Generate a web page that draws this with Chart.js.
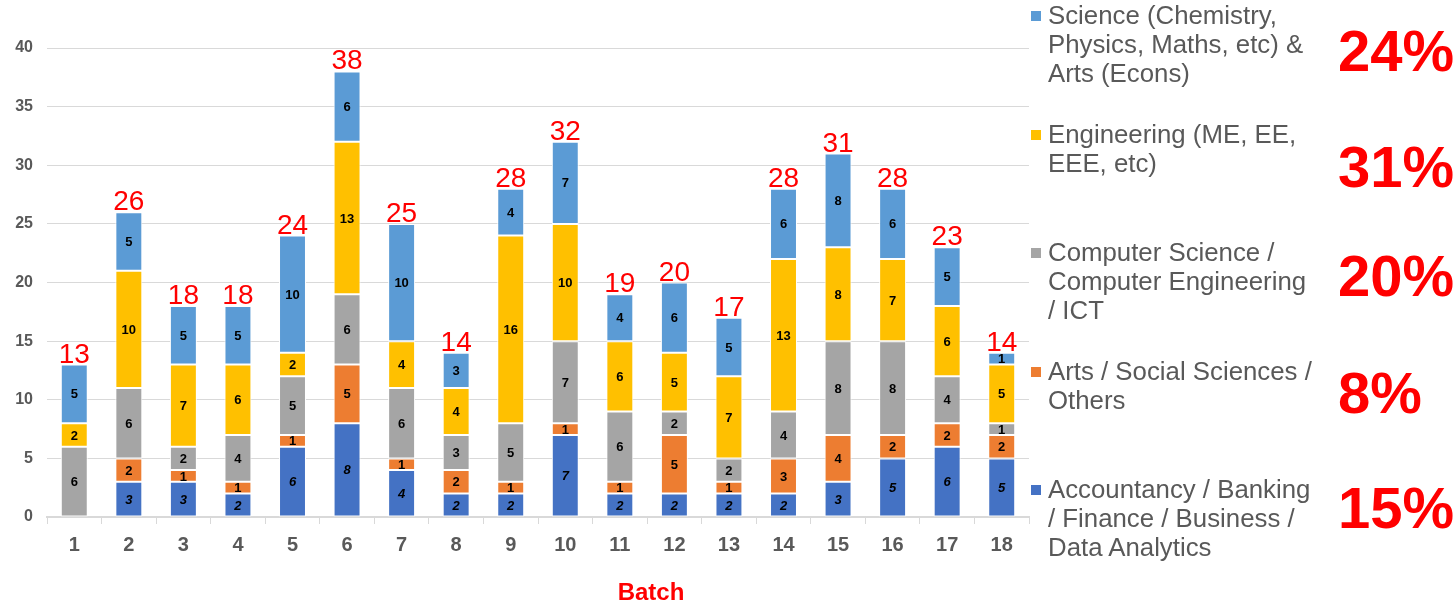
<!DOCTYPE html>
<html>
<head>
<meta charset="utf-8">
<script src="https://cdn.jsdelivr.net/npm/chart.js@4.4.0/dist/chart.umd.min.js"></script>
<style>
  body { margin: 0; background: #fff; }
  #wrap { position: relative; width: 1455px; height: 608px; overflow: hidden; }
  #wrap canvas { position: absolute; left: 0; top: 0; }
  .legend-item {
    position: absolute;
    left: 1031px;
    padding-left: 17px;
    font: 25.8px "Liberation Sans", Arial, sans-serif;
    line-height: 29.4px;
    color: #595959;
    white-space: pre-line;
  }
  .legend-item span {
    position: absolute;
    left: 0;
    top: 10.5px;
    width: 10px;
    height: 10px;
  }
  .share {
    position: absolute;
    left: 1338px;
    font: bold 58px "Liberation Sans", Arial, sans-serif;
    line-height: 58px;
    color: #ff0000;
  }
</style>
</head>
<body>
<div id="wrap">
  <canvas id="batchChart" width="1455" height="608"></canvas>
</div>
<script>
document.addEventListener("DOMContentLoaded", function(){

    const batches = ["1", "2", "3", "4", "5", "6", "7", "8", "9", "10", "11", "12", "13", "14", "15", "16", "17", "18"];

    // stacked bottom -> top
    const accountancy = [0, 3, 3, 2, 6, 8, 4, 2, 2, 7, 2, 2, 2, 2, 3, 5, 6, 5];
    const arts        = [0, 2, 1, 1, 1, 5, 1, 2, 1, 1, 1, 5, 1, 3, 4, 2, 2, 2];
    const computing   = [6, 6, 2, 4, 5, 6, 6, 3, 5, 7, 6, 2, 2, 4, 8, 8, 4, 1];
    const engineering = [2, 10, 7, 6, 2, 13, 4, 4, 16, 10, 6, 5, 7, 13, 8, 7, 6, 5];
    const science     = [5, 5, 5, 5, 10, 6, 10, 3, 4, 7, 4, 6, 5, 6, 8, 6, 5, 1];

    const seriesNames = [
      "Accountancy / Banking\n/ Finance / Business /\nData Analytics",
      "Arts / Social Sciences /\nOthers",
      "Computer Science /\nComputer Engineering\n/ ICT",
      "Engineering (ME, EE,\nEEE, etc)",
      "Science (Chemistry,\nPhysics, Maths, etc) &\nArts (Econs)",
    ];
    const shares = ["15%", "8%", "20%", "31%", "24%"];
    const colors = ["#4472c4", "#ed7d31", "#a5a5a5", "#ffc000", "#5b9bd5"];
    const seriesData = [accountancy, arts, computing, engineering, science];

    const fontFamily = '"Liberation Sans", Arial, sans-serif';
    Chart.defaults.font.family = fontFamily;

    // value labels, totals and axis title
    const barLabels = {
      id: "barLabels",
      afterDatasetsDraw(chart) {
        const ctx = chart.ctx;
        ctx.save();
        ctx.textAlign = "center";
        ctx.textBaseline = "middle";
        ctx.fillStyle = "#000";
        chart.data.datasets.forEach((ds, i) => {
          const meta = chart.getDatasetMeta(i);
          ctx.font = (i === 0 ? "italic " : "") + "bold 13px " + fontFamily;
          meta.data.forEach((bar, j) => {
            const v = ds.data[j];
            if (!v) return;
            ctx.fillText(v, bar.x, (bar.y + bar.base) / 2 + 1);
          });
        });

        const yScale = chart.scales.y;
        const xScale = chart.scales.x;
        ctx.font = "28px " + fontFamily;
        ctx.fillStyle = "#ff0000";
        ctx.textBaseline = "alphabetic";
        batches.forEach((b, j) => {
          const total = seriesData.reduce((acc, s) => acc + s[j], 0);
          ctx.fillText(total, xScale.getPixelForValue(j), yScale.getPixelForValue(total) - 2);
        });

        ctx.font = "bold 24px " + fontFamily;
        ctx.textBaseline = "middle";
        ctx.fillText("Batch", 651, 593);
        ctx.restore();
      }
    };

    const ctxBatch = document.getElementById("batchChart").getContext("2d");
    const batchChart = new Chart(ctxBatch, {
      type: "bar",
      data: {
        labels: batches,
        datasets: seriesData.map((data, i) => ({
          label: seriesNames[i],
          data: data,
          backgroundColor: colors[i],
          borderColor: "#ffffff",
          borderWidth: 1,
          borderSkipped: false,
          barPercentage: 0.494,
          categoryPercentage: 1,
        })),
      },
      options: {
        responsive: false,
        animation: false,
        layout: { padding: { top: 48, right: 426, left: 0, bottom: 0 } },
        scales: {
          x: {
            stacked: true,
            grid: { drawOnChartArea: false, offset: true, tickLength: 7, color: "#d9d9d9" },
            border: { color: "#d9d9d9", width: 2 },
            ticks: { color: "#595959", font: { size: 20, weight: "bold" }, padding: 9 },
            afterFit(scale) { scale.height = 91; },
          },
          y: {
            stacked: true,
            min: 0,
            max: 40,
            ticks: { stepSize: 5, color: "#595959", font: { size: 16, weight: "bold" }, padding: 14 },
            grid: { color: "#d9d9d9", drawTicks: false },
            border: { display: false },
            afterFit(scale) { scale.width = 47; },
          },
        },
        plugins: {
          legend: { display: false },
          tooltip: { enabled: false },
        },
      },
      plugins: [barLabels],
    });

    // legend (top item = top of the stack) and shares
    const wrap = document.getElementById("wrap");
    const legendCenters = [490, 372, 253, 135, 16];
    const shareCenters = [507, 392, 275, 166, 50];
    seriesNames.forEach((name, i) => {
      const item = document.createElement("div");
      item.className = "legend-item";
      item.style.top = (legendCenters[i] - 15.5) + "px";
      const sq = document.createElement("span");
      sq.style.background = colors[i];
      item.appendChild(sq);
      item.appendChild(document.createTextNode(name));
      wrap.appendChild(item);

      const share = document.createElement("div");
      share.className = "share";
      share.style.top = (shareCenters[i] - 28.4) + "px";
      share.textContent = shares[i];
      wrap.appendChild(share);
    });

});
</script>
</body>
</html>
